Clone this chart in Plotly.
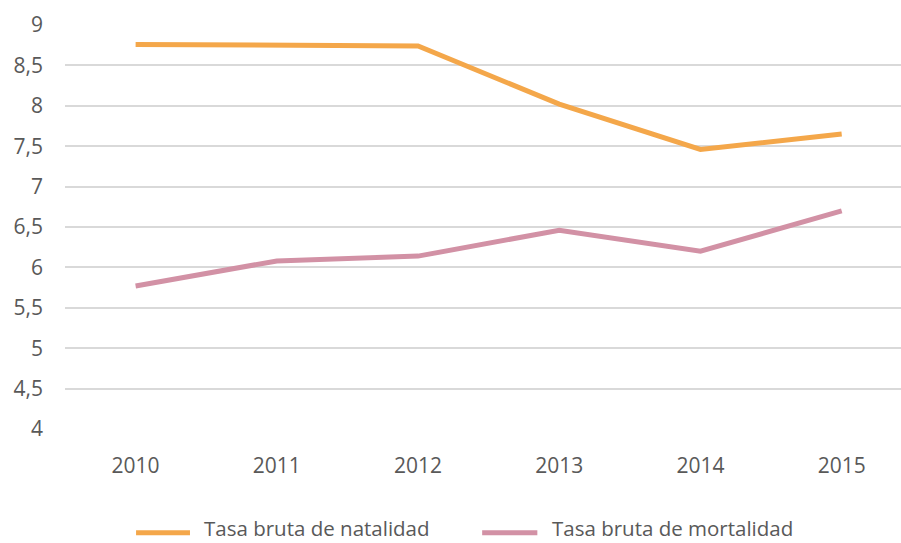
import plotly.graph_objects as go

# Tasas brutas por cada 1.000 habitantes
years = ["2010", "2011", "2012", "2013", "2014", "2015"]
natalidad = [8.76, 8.75, 8.74, 8.02, 7.46, 7.65]
mortalidad = [5.77, 6.08, 6.14, 6.46, 6.20, 6.70]
series_names = ["Tasa bruta de natalidad", "Tasa bruta de mortalidad"]
series_colors = ["#F4A74A", "#D291A5"]
y_ticks = [4, 4.5, 5, 5.5, 6, 6.5, 7, 7.5, 8, 8.5, 9]
y_ticktext = [f"{v:g}".replace(".", ",") for v in y_ticks]

FONT = "Open Sans"
TEXT = "#595959"
FS = 21

x = list(range(len(years)))
fig = go.Figure()
for name, values, color in zip(series_names, [natalidad, mortalidad], series_colors):
    fig.add_trace(go.Scatter(
        x=x, y=values, name=name, mode="lines",
        line=dict(color=color, width=5, shape="linear"),
        showlegend=False,
    ))

# Custom legend row below the plot: (line start, line end, text start) in paper units
legend_items = [(0.085, 0.1495, 0.1655), (0.499, 0.565, 0.581)]
legend_line_y = -0.257
legend_text_y = -0.246
for (x0, x1, tx), name, color in zip(legend_items, series_names, series_colors):
    fig.add_shape(type="line", xref="paper", yref="paper",
                  x0=x0, x1=x1, y0=legend_line_y, y1=legend_line_y,
                  line=dict(color=color, width=5))
    fig.add_annotation(xref="paper", yref="paper", x=tx, y=legend_text_y,
                       text=name, showarrow=False, xanchor="left", yanchor="middle",
                       borderpad=0,
                       font=dict(family=FONT, size=20.5, color=TEXT))

fig.update_layout(
    width=901, height=543,
    margin=dict(l=65, r=0, t=25, b=114),
    paper_bgcolor="white", plot_bgcolor="white",
    font=dict(family=FONT, size=FS, color=TEXT),
    xaxis=dict(
        range=[-0.5, 5.42], tickmode="array", tickvals=x, ticktext=years,
        showgrid=False, zeroline=False, showline=False, ticks="",
        ticklabelstandoff=22, fixedrange=True,
    ),
    yaxis=dict(
        range=[4, 9], tickmode="array", tickvals=y_ticks, ticktext=y_ticktext,
        showgrid=True, gridcolor="#D9D9D9", gridwidth=1.5,
        zeroline=False, showline=False, ticks="", ticklabelstandoff=21,
        fixedrange=True,
    ),
)

fig.write_html("out.html")
